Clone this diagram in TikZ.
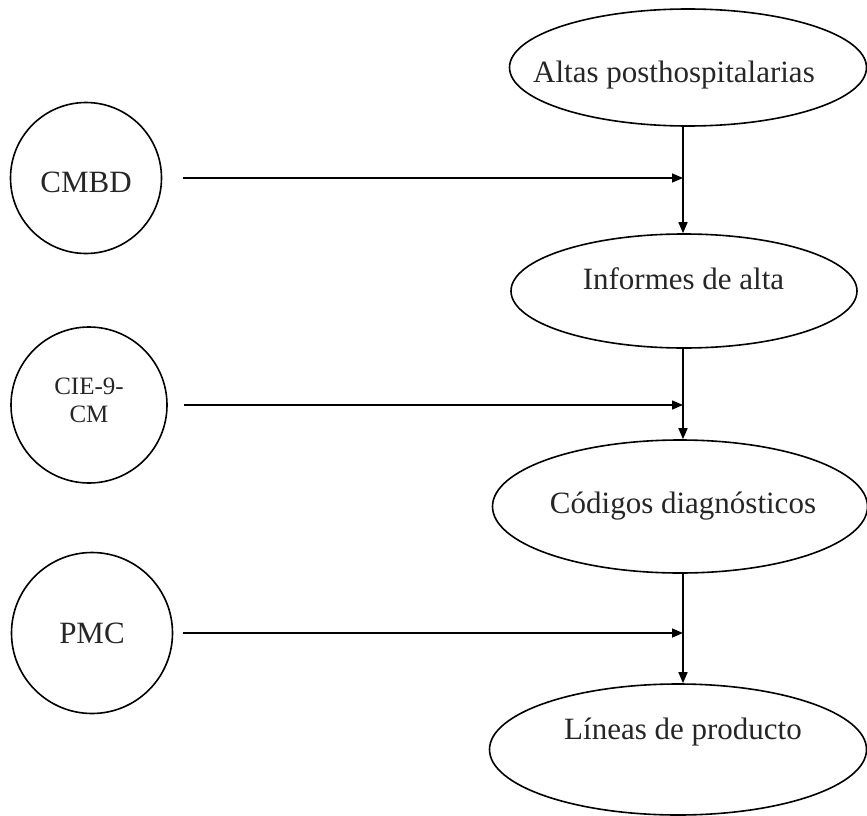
\documentclass[tikz,border=0pt]{standalone}
\usepackage{fontspec}
\setmainfont{Liberation Serif}
\usepackage{tikz}
\usetikzlibrary{arrows.meta,shapes.geometric}
\definecolor{ink}{HTML}{262626}

\begin{document}
\begin{tikzpicture}[
  x=1pt, y=-1pt,
  every node/.style={font=\fontsize{31}{36}\selectfont, text=ink},
  oval/.style={draw, ellipse, line width=1.6pt, inner sep=0pt},
  source/.style={draw, circle, line width=1.6pt, inner sep=0pt, align=center},
  txt/.style={anchor=base, inner sep=0pt},
  arrow/.style={-{Triangle[length=11pt,width=9pt]}, line width=1.5pt}
]
  \useasboundingbox (0,0) rectangle (867,816);
  \coordinate (spine) at (683,0);

  % chain of ellipses on the right
  \node[oval, minimum width=357pt, minimum height=117pt] (altas) at (688,67.5) {};
  \node[oval, minimum width=346pt, minimum height=114pt] (informes) at (684,291) {};
  \node[oval, minimum width=375pt, minimum height=133pt] (codigos) at (680,506.5) {};
  \node[oval, minimum width=377pt, minimum height=131pt] (lineas) at (678,749.5) {};
  \node[txt] (t-altas) at (674,82) {Altas posthospitalarias};
  \node[txt] (t-informes) at (683.5,289) {Informes de alta};
  \node[txt] (t-codigos) at (683,513) {Códigos diagnósticos};
  \node[txt] (t-lineas) at (683,739) {Líneas de producto};

  % sources on the left
  \node[source, minimum size=151pt, text height=30pt] (cmbd) at (86,178) {CMBD};
  \node[source, minimum size=156pt, text depth=9pt,
        font=\fontsize{25}{28}\selectfont] (cie) at (89,405) {CIE-9-\\CM};
  \node[source, minimum size=161pt] (pmc) at (92,633) {PMC};

  \draw[arrow] (spine |- altas.south) -- (spine |- informes.north);
  \draw[arrow] (spine |- informes.south) -- (spine |- codigos.north);
  \draw[arrow] (spine |- codigos.south) -- (spine |- lineas.north);
  \draw[arrow] ([xshift=21pt]cmbd.east) -- (cmbd.east -| spine);
  \draw[arrow] ([xshift=16pt]cie.east) -- (cie.east -| spine);
  \draw[arrow] ([xshift=10pt]pmc.east) -- (pmc.east -| spine);
\end{tikzpicture}
\end{document}
